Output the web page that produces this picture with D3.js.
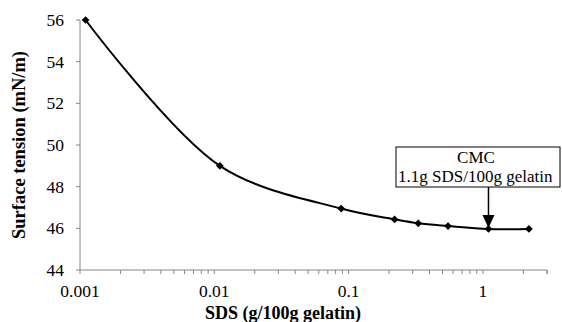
<!DOCTYPE html>
<html>
<head>
<meta charset="utf-8">
<script src="https://cdn.jsdelivr.net/npm/d3@7"></script>
<style>
  body { margin: 0; background: #fff; }
</style>
</head>
<body>
<script>
// data
var sds = [0.0011, 0.011, 0.088, 0.22, 0.33, 0.55, 1.1, 2.2];
var tension = [56, 49, 46.95, 46.43, 46.24, 46.11, 45.97, 45.97];
var xTickLabels = [0.001, 0.01, 0.1, 1];
var yTicks = [44, 46, 48, 50, 52, 54, 56];
var cmcAt = 1.1;

var width = 562, height = 322;
var margin = { top: 20, right: 15, bottom: 52, left: 80 };
var serif = "'Liberation Serif', 'DejaVu Serif', serif";

var svg = d3.select("body").append("svg")
    .attr("width", width)
    .attr("height", height)
    .attr("font-family", serif);

var x = d3.scaleLog()
    .domain([0.001, 3])
    .range([margin.left, width - margin.right]);

var y = d3.scaleLinear()
    .domain([44, 56])
    .range([height - margin.bottom, margin.top]);

// minor ticks 1..9 for each decade
var minor = [];
[0.001, 0.01, 0.1, 1].forEach(function(d) {
    for (var k = 1; k <= 9; k++) {
        if (d * k <= 3) minor.push(d * k);
    }
});

var axisColor = "#868686";

// x axis
var xg = svg.append("g")
    .attr("transform", "translate(0," + y(44) + ")");
xg.append("line")
    .attr("x1", x(0.001)).attr("x2", x(3))
    .attr("stroke", axisColor);
xg.selectAll(".tick")
    .data(minor)
    .enter().append("line")
    .attr("x1", function(d) { return x(d); })
    .attr("x2", function(d) { return x(d); })
    .attr("y1", 0).attr("y2", 4)
    .attr("stroke", axisColor);
xg.append("line")
    .attr("x1", x(3)).attr("x2", x(3))
    .attr("y1", 0).attr("y2", 4)
    .attr("stroke", axisColor);
xg.selectAll(".lbl")
    .data(xTickLabels)
    .enter().append("text")
    .attr("x", function(d) { return x(d); })
    .attr("y", 27)
    .attr("text-anchor", "middle")
    .style("font-size", "17.5px")
    .text(function(d) { return d; });

// y axis
var yg = svg.append("g")
    .attr("transform", "translate(" + x(0.001) + ",0)");
yg.append("line")
    .attr("y1", y(44)).attr("y2", y(56))
    .attr("stroke", axisColor);
yg.selectAll(".tick")
    .data(yTicks)
    .enter().append("line")
    .attr("x1", -4).attr("x2", 0)
    .attr("y1", function(d) { return y(d); })
    .attr("y2", function(d) { return y(d); })
    .attr("stroke", axisColor);
yg.selectAll(".lbl")
    .data(yTicks)
    .enter().append("text")
    .attr("x", -16)
    .attr("y", function(d) { return y(d); })
    .attr("dy", "0.35em")
    .attr("text-anchor", "end")
    .style("font-size", "17.5px")
    .text(function(d) { return d; });

// axis titles
svg.append("text")
    .attr("x", 283)
    .attr("y", 319)
    .attr("text-anchor", "middle")
    .style("font-size", "18px")
    .style("font-weight", "bold")
    .text("SDS (g/100g gelatin)");

svg.append("text")
    .attr("transform", "translate(25,145) rotate(-90)")
    .attr("text-anchor", "middle")
    .style("font-size", "18.5px")
    .style("font-weight", "bold")
    .text("Surface tension (mN/m)");

// smoothed line
var pts = sds.map(function(d, i) { return [x(d), y(tension[i])]; });
var line = d3.line().curve(d3.curveCatmullRom.alpha(0.5));

svg.append("path")
    .attr("d", line(pts))
    .attr("fill", "none")
    .attr("stroke", "#000")
    .attr("stroke-width", 2);

// diamond markers
svg.selectAll(".marker")
    .data(pts)
    .enter().append("path")
    .attr("d", d3.symbol().type(d3.symbolDiamond2).size(38))
    .attr("transform", function(d) { return "translate(" + d[0] + "," + d[1] + ")"; })
    .attr("fill", "#000");

// CMC annotation
var cmcY = y(tension[sds.indexOf(cmcAt)]);
var boxTop = 147, boxBottom = 187, boxLeft = 396, boxRight = 560;

svg.append("rect")
    .attr("x", boxLeft).attr("y", boxTop)
    .attr("width", boxRight - boxLeft).attr("height", boxBottom - boxTop)
    .attr("fill", "#fff")
    .attr("stroke", "#000")
    .attr("stroke-width", 1);

svg.append("text")
    .attr("x", 476)
    .attr("y", 163)
    .attr("text-anchor", "middle")
    .style("font-size", "17px")
    .text("CMC");
svg.append("text")
    .attr("x", 398)
    .attr("y", 182)
    .style("font-size", "17px")
    .text("1.1g SDS/100g gelatin");

svg.append("line")
    .attr("x1", x(cmcAt)).attr("x2", x(cmcAt))
    .attr("y1", boxBottom).attr("y2", cmcY - 10)
    .attr("stroke", "#000")
    .attr("stroke-width", 1.5);
svg.append("path")
    .attr("d", "M" + (x(cmcAt) - 6) + "," + (cmcY - 14) +
        "L" + (x(cmcAt) + 6) + "," + (cmcY - 14) +
        "L" + x(cmcAt) + "," + (cmcY - 1) + "Z")
    .attr("fill", "#000");
</script>
</body>
</html>
